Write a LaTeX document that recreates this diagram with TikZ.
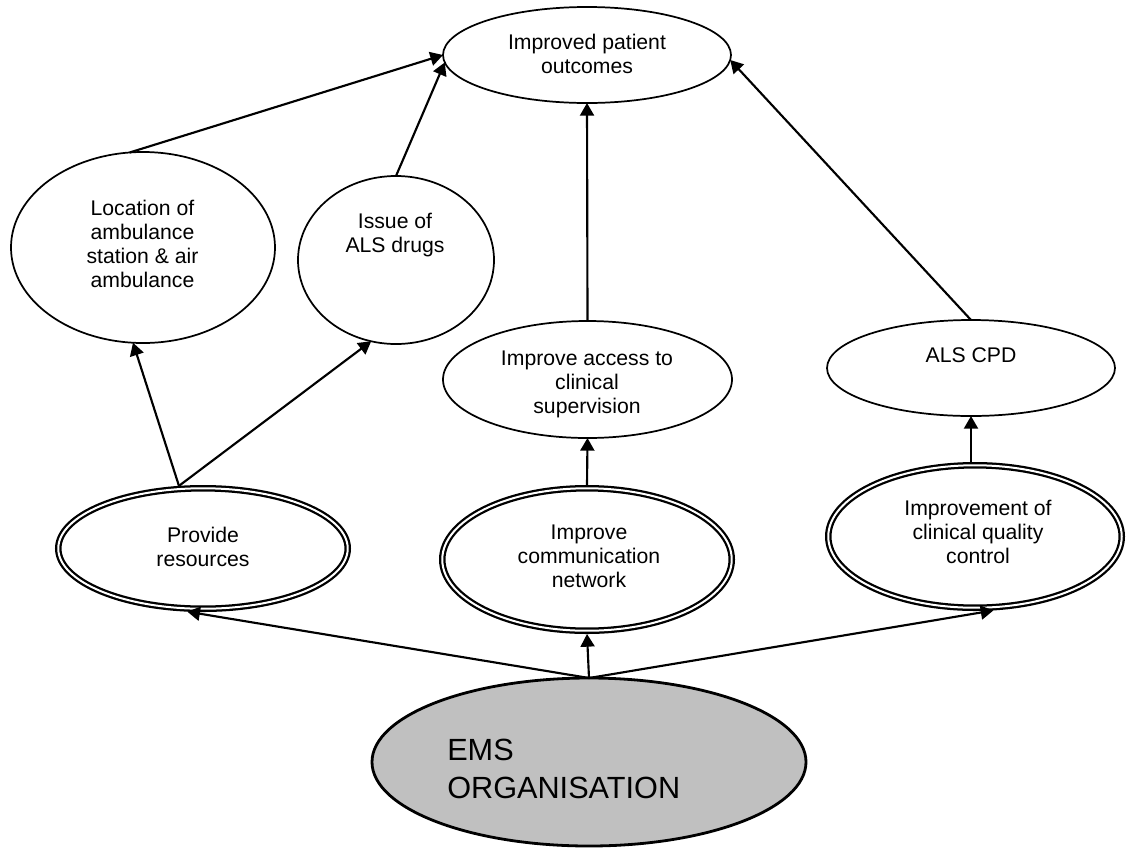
\documentclass[tikz,border=0pt]{standalone}
\usepackage{fontspec}
\setmainfont{Liberation Sans}
\usetikzlibrary{shapes.geometric,arrows.meta}
\definecolor{emsgray}{HTML}{C0C0C0}
\tikzset{
  x=0.75pt, y=-0.75pt,
  ell/.style={ellipse, draw, line width=1.3pt, inner sep=0pt, outer sep=0pt},
  dell/.style={ellipse, draw, line width=1.7pt, double=white, double distance=1.5pt, inner sep=0pt, outer sep=2.45pt},
  emsnode/.style={ellipse, draw, line width=2.1pt, fill=emsgray, inner sep=0pt, outer sep=0pt},
  txt/.style={anchor=base, align=center, inner sep=0pt, font=\fontsize{15.9}{18}\selectfont},
  conn/.style={line width=1.6pt, -{Triangle[length=9.5pt, width=10.5pt]}},
  plain/.style={line width=1.6pt}
}
\begin{document}
\begin{tikzpicture}
\useasboundingbox (0,0) rectangle (1127,847);
\fill[white] (0,0) rectangle (1127,847);

% ellipses
\node[ell, minimum width=216pt, minimum height=72pt] (top) at (587,55) {};
\node[ell, minimum width=198pt, minimum height=143.25pt] (loc) at (143,247.5) {};
\node[ell, minimum width=147pt, minimum height=126pt] (issue) at (396,260) {};
\node[ell, minimum width=216.75pt, minimum height=87.75pt] (access) at (587.5,379.5) {};
\node[ell, minimum width=216pt, minimum height=72pt] (als) at (971,368) {};
\node[dell, minimum width=217.1pt, minimum height=90.35pt] (prov) at (203,548.5) {};
\node[dell, minimum width=217.1pt, minimum height=106.85pt] (comm) at (587,559.5) {};
\node[dell, minimum width=220.1pt, minimum height=106.85pt] (impr) at (975,536.5) {};
\node[emsnode, minimum width=325.5pt, minimum height=126pt] (ems) at (589,762) {};

% texts (anchored at the baseline of the last line)
\node[txt] (t-top) at (587,73) {Improved patient\\outcomes};
\node[txt] (t-loc) at (142.5,287.3) {Location of\\ambulance\\station \& air\\ambulance};
\node[txt] (t-issue) at (395,252) {Issue of\\ALS drugs};
\node[txt] (t-access) at (587,413) {Improve access to\\clinical\\supervision};
\node[txt] (t-als) at (971,362) {ALS CPD};
\node[txt] (t-prov) at (203,566) {Provide\\resources};
\node[txt] (t-comm) at (589,587) {Improve\\communication\\network};
\node[txt] (t-impr) at (978,563) {Improvement of\\clinical quality\\control};
\node[anchor=base west, align=left, inner sep=0pt, font=\fontsize{23}{28.3}\selectfont] (t-ems) at (447,798.7) {EMS\\ORGANISATION};

% connectors
\draw[conn] (loc.98) -- (top.180);
\draw[conn] (issue.north) -- (top.183);
\draw[conn] (access.north) -- (top.south);
\draw[conn] (als.north) -- (top.358);
\draw[conn] (prov.111) -- (loc.264);
\draw[conn] (prov.111) -- (issue.253);
\draw[conn] (comm.north) -- (access.south);
\draw[conn] (als.south |- impr.north) -- (als.south);
\draw[conn] (ems.north) -- (prov.256);
\draw[conn] (ems.north) -- (comm.south);
\draw[conn] (ems.north) -- (impr.284);
\end{tikzpicture}
\end{document}
